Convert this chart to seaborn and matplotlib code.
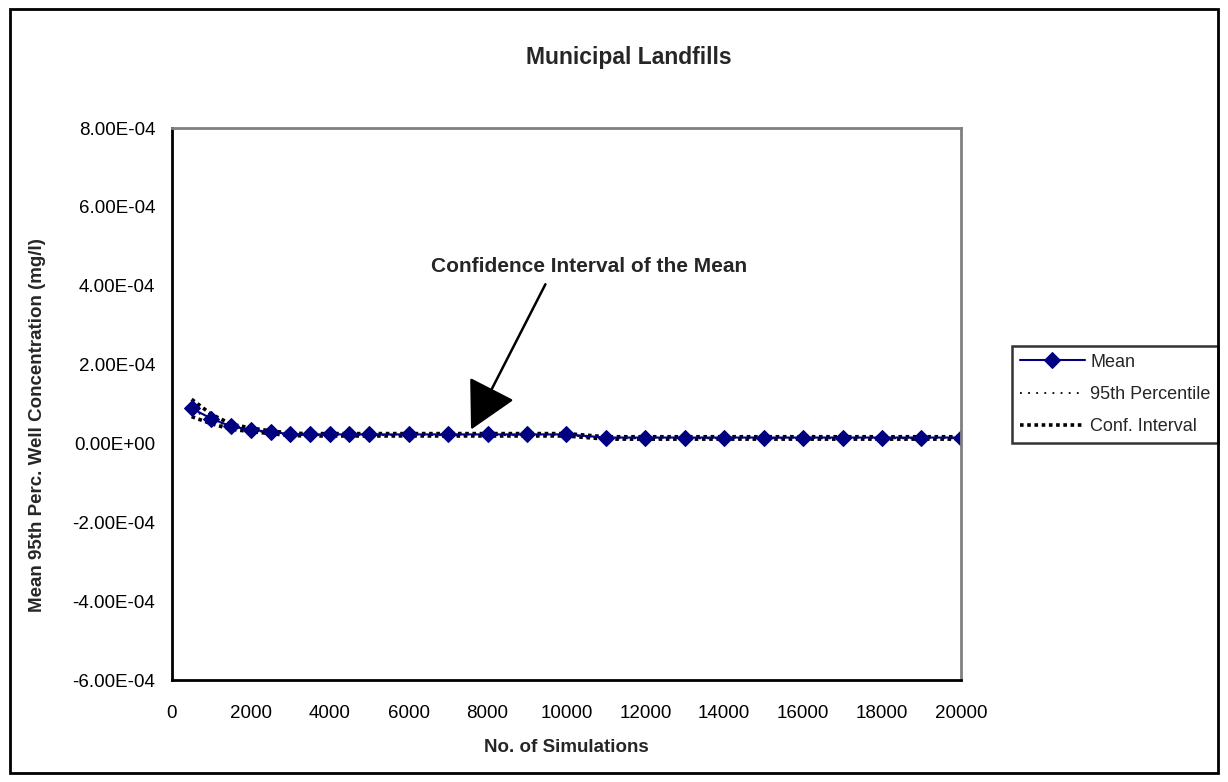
import numpy as np
import pandas as pd
import matplotlib
matplotlib.use('Agg')
import matplotlib.pyplot as plt
import seaborn as sns
from matplotlib.patches import Rectangle
from matplotlib.ticker import FuncFormatter

sns.set_style('white')
plt.rcParams['font.family'] = ['Liberation Sans', 'DejaVu Sans']

# data
n_sims = [500, 1000, 1500, 2000, 2500, 3000, 3500, 4000, 4500, 5000, 6000, 7000,
          8000, 9000, 10000, 11000, 12000, 13000, 14000, 15000, 16000, 17000,
          18000, 19000, 20000]
mean = [8.9e-5, 6.3e-5, 4.3e-5, 3.5e-5, 2.9e-5, 2.4e-5, 2.3e-5, 2.3e-5, 2.3e-5, 2.3e-5,
        2.3e-5, 2.3e-5, 2.3e-5, 2.3e-5, 2.3e-5, 1.5e-5, 1.5e-5, 1.5e-5, 1.5e-5, 1.5e-5,
        1.5e-5, 1.5e-5, 1.5e-5, 1.5e-5, 1.5e-5]
p95 = [8.6e-5, 6.0e-5, 4.1e-5, 3.3e-5, 2.7e-5, 2.2e-5, 2.1e-5, 2.1e-5, 2.1e-5, 2.1e-5,
       2.1e-5, 2.1e-5, 2.1e-5, 2.1e-5, 2.1e-5, 1.3e-5, 1.3e-5, 1.3e-5, 1.3e-5, 1.3e-5,
       1.3e-5, 1.3e-5, 1.3e-5, 1.3e-5, 1.3e-5]
ci_upper = [1.12e-4, 7.4e-5, 4.9e-5, 3.9e-5, 3.2e-5, 2.6e-5, 2.5e-5, 2.5e-5, 2.5e-5, 2.5e-5,
            2.5e-5, 2.5e-5, 2.5e-5, 2.5e-5, 2.5e-5, 1.7e-5, 1.7e-5, 1.7e-5, 1.7e-5, 1.7e-5,
            1.7e-5, 1.7e-5, 1.7e-5, 1.7e-5, 1.7e-5]
ci_lower = [6.8e-5, 5.0e-5, 3.6e-5, 3.0e-5, 2.5e-5, 2.0e-5, 1.9e-5, 1.9e-5, 1.9e-5, 1.9e-5,
            1.9e-5, 1.9e-5, 1.9e-5, 1.9e-5, 1.9e-5, 1.1e-5, 1.1e-5, 1.1e-5, 1.1e-5, 1.1e-5,
            1.1e-5, 1.1e-5, 1.1e-5, 1.1e-5, 1.1e-5]

df = pd.DataFrame({'n': n_sims, 'mean': mean, 'p95': p95,
                   'ci_upper': ci_upper, 'ci_lower': ci_lower})

fig = plt.figure(figsize=(12.28, 7.82), dpi=100)
ax = fig.add_axes([0.140, 0.1304, 0.6425, 0.7059])

# conf interval (thick square dots)
sns.lineplot(data=df, x='n', y='ci_upper', color='black', lw=2.6,
             linestyle=(0, (1, 1)), ax=ax, label='Conf. Interval')
sns.lineplot(data=df, x='n', y='ci_lower', color='black', lw=2.6,
             linestyle=(0, (1, 1)), ax=ax, label='_nolegend_')
# 95th percentile (thin dotted)
sns.lineplot(data=df, x='n', y='p95', color='black', lw=1.3,
             linestyle=(0, (1, 3.5)), ax=ax, label='95th Percentile')
# mean
sns.lineplot(data=df, x='n', y='mean', color='#000080', lw=1.5, marker='D',
             markersize=8, markeredgecolor='#000080', ax=ax, label='Mean')

ax.set_xlim(0, 20000)
ax.set_ylim(-6e-4, 8e-4)
ax.set_xticks(np.arange(0, 20001, 2000))
ax.set_yticks(np.arange(-6e-4, 8.01e-4, 2e-4))
ax.yaxis.set_major_formatter(FuncFormatter(
    lambda v, p: '0.00E+00' if abs(v) < 1e-12 else ('%.2E' % v)))
ax.tick_params(axis='both', direction='inout', length=8, width=1.5,
               labelsize=13.5, colors='black')
ax.tick_params(axis='x', pad=14)
ax.tick_params(axis='y', pad=8)

for s in ['left', 'bottom']:
    ax.spines[s].set_color('black')
    ax.spines[s].set_linewidth(2)
for s in ['top', 'right']:
    ax.spines[s].set_color('#808080')
    ax.spines[s].set_linewidth(2)

ax.set_xlabel('No. of Simulations', fontsize=13.5, fontweight='bold', labelpad=12)
ax.set_ylabel('Mean 95th Perc. Well Concentration (mg/l)', fontsize=13.5,
              fontweight='bold', va='center')
ax.yaxis.set_label_coords(-0.170, 0.462)
fig.text(0.512, 0.927, 'Municipal Landfills', ha='center', va='center',
         fontsize=16.5, fontweight='bold')

# annotation arrow
ax.text(10570, 4.5e-4, 'Confidence Interval of the Mean', ha='center', va='center',
        fontsize=15, fontweight='bold')
ax.annotate('', xy=(7550, 2.9e-5), xytext=(9500, 4.1e-4),
            arrowprops=dict(arrowstyle='-|>,head_length=1.5,head_width=0.8',
                            color='black', lw=1.8, mutation_scale=20))

# legend order: Mean, 95th Percentile, Conf. Interval
h, l = ax.get_legend_handles_labels()
order = [l.index('Mean'), l.index('95th Percentile'), l.index('Conf. Interval')]
leg = ax.legend([h[i] for i in order], [l[i] for i in order],
                loc='upper left', bbox_to_anchor=(0.8245, 0.557),
                bbox_transform=fig.transFigure, fontsize=13, frameon=True,
                fancybox=False, edgecolor='black', borderpad=0.4,
                handlelength=3.6, handletextpad=0.3, labelspacing=0.85,
                borderaxespad=0)
leg.get_frame().set_linewidth(1.8)

# outer border
fig.patches.append(Rectangle((0.008, 0.011), 0.984, 0.978, transform=fig.transFigure,
                             fill=False, edgecolor='black', lw=2))

fig.savefig('out.png', dpi=100, facecolor='white')
